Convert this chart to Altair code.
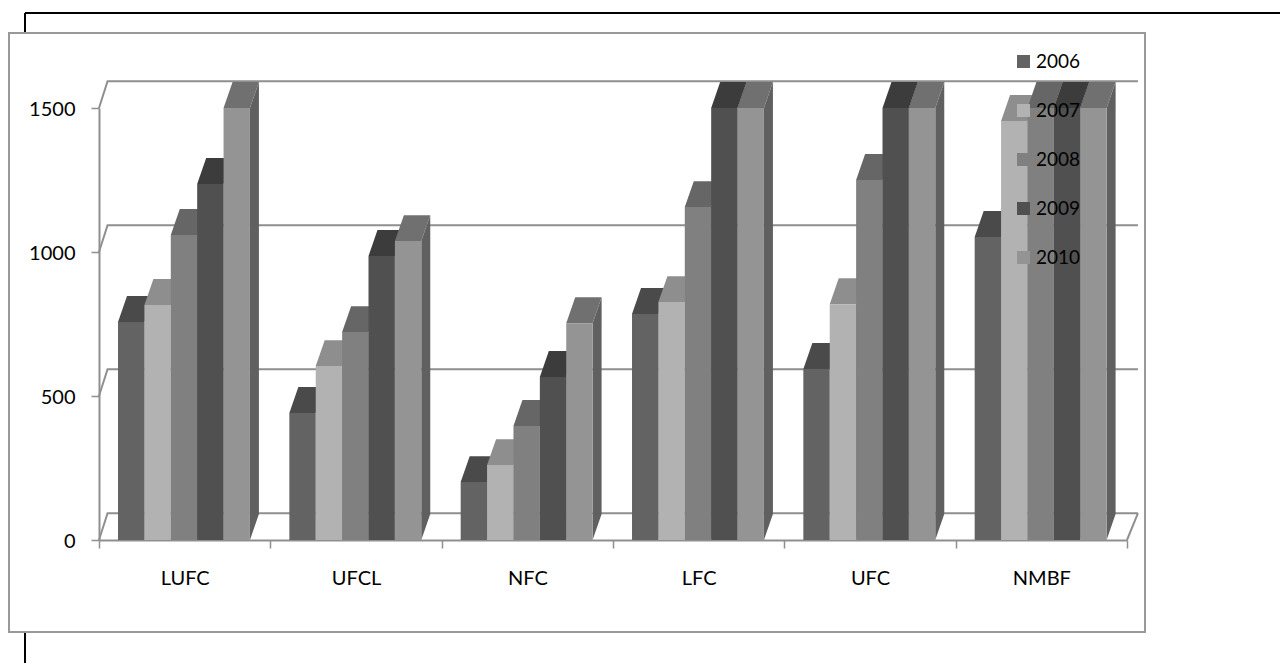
import altair as alt
import pandas as pd

categories = ["LUFC", "UFCL", "NFC", "LFC", "UFC", "NMBF"]
years = ["2006", "2007", "2008", "2009", "2010"]
v2006 = [757, 441, 201, 785, 594, 1052]
v2007 = [816, 604, 260, 826, 819, 1455]
v2008 = [1059, 722, 396, 1156, 1250, 1500]
v2009 = [1236, 986, 566, 1500, 1500, 1500]
v2010 = [1500, 1038, 753, 1500, 1500, 1500]
series = [v2006, v2007, v2008, v2009, v2010]

front_colors = ["#636363", "#b2b2b2", "#808080", "#505050", "#949494"]
top_colors = ["#4a4a4a", "#8e8e8e", "#666666", "#3c3c3c", "#707070"]
side_colors = ["#4c4c4c", "#858585", "#606060", "#3c3c3c", "#606060"]
grid_values = [0, 500, 1000, 1500]

FONT = "Lato"
GRAY = "#8f8f8f"
PAD = 0.111       # gap from category edge to first bar, in category units
BAR_W = 0.154     # bar width, in category units
DX = 0.0525       # depth offset along x, in category units
DY = 90           # depth offset along y, in value units

fronts, tops, sides = [], [], []
for c, cat in enumerate(categories):
    for s, yr in enumerate(years):
        v = series[s][c]
        x0 = c + PAD + BAR_W * s
        x1 = x0 + BAR_W
        bar = f"{c}-{s}"
        fronts.append(dict(cat=cat, Year=yr, x0=x0, x1=x1, v=v, base=0))
        for x, a, b in [(x0, v, v), (x0 + DX, v, v + DY), (x1, v, v + DY), (x1 + DX, v + DY, v + DY)]:
            tops.append(dict(bar=bar, x=x, lo=a, hi=b, fill=top_colors[s]))
        for x, a, b in [(x1, 0, v), (x1 + DX, DY, v + DY)]:
            sides.append(dict(bar=bar, x=x, lo=a, hi=b, fill=side_colors[s]))

grid = []
for g in grid_values:
    grid.append(dict(g=f"g{g}", x=0, v=g))
    grid.append(dict(g=f"g{g}", x=0.05, v=g + 93))
    grid.append(dict(g=f"g{g}", x=6.064, v=g + 93))
grid.append(dict(g="edge", x=6, v=0))
grid.append(dict(g="edge", x=6.064, v=93))

xs = alt.Scale(domain=[0, 6], nice=False, zero=False)
ys = alt.Scale(domain=[0, 1500], nice=False, zero=True)

names = "[" + ",".join(f"'{c}'" for c in categories) + "]"

black_h = alt.Chart(pd.DataFrame({"a": [0]})).mark_rule(color="#000000", strokeWidth=2).encode(
    x=alt.value(-74), x2=alt.value(1181), y=alt.value(-95))
black_v1 = alt.Chart(pd.DataFrame({"a": [0]})).mark_rule(color="#000000", strokeWidth=2).encode(
    x=alt.value(-74), y=alt.value(-95), y2=alt.value(-75))
black_v2 = alt.Chart(pd.DataFrame({"a": [0]})).mark_rule(color="#000000", strokeWidth=2).encode(
    x=alt.value(-74), y=alt.value(524), y2=alt.value(555))
frame = alt.Chart(pd.DataFrame({"a": [0]})).mark_rect(fill="#ffffff", fillOpacity=0, stroke="#999999", strokeWidth=2).encode(
    x=alt.value(-90), x2=alt.value(1046), y=alt.value(-75), y2=alt.value(524))

x_axis = alt.Axis(
    values=list(range(7)), title=None, grid=False, domainColor=GRAY, domainWidth=2,
    tickColor=GRAY, tickWidth=1.5, tickSize=8, labelExpr=f"datum.value<6?{names}[datum.value]:''",
    labelOffset=85.67, labelPadding=20, labelFont=FONT, labelFontSize=20, labelColor="#000000",
    labelAlign="center", labelFlush=False, labelOverlap=False)
y_axis = alt.Axis(
    values=grid_values, title=None, grid=False, domainColor=GRAY, domainWidth=2, format="d",
    tickColor=GRAY, tickWidth=1.5, tickSize=8, labelPadding=16, labelOffset=1, labelFont=FONT,
    labelFontSize=20, labelColor="#000000")

grid_layer = alt.Chart(pd.DataFrame(grid)).mark_line(color=GRAY, strokeWidth=2).encode(
    x=alt.X("x:Q", scale=xs, axis=x_axis),
    y=alt.Y("v:Q", scale=ys, axis=y_axis),
    detail="g:N", order="x:Q")

side_layer = alt.Chart(pd.DataFrame(sides)).mark_area().encode(
    x=alt.X("x:Q", scale=xs),
    y=alt.Y("lo:Q", scale=ys), y2="hi:Q",
    detail="bar:N", fill=alt.Fill("fill:N", scale=None))

top_layer = alt.Chart(pd.DataFrame(tops)).mark_area().encode(
    x=alt.X("x:Q", scale=xs),
    y=alt.Y("lo:Q", scale=ys), y2="hi:Q",
    detail="bar:N", fill=alt.Fill("fill:N", scale=None))

front_layer = alt.Chart(pd.DataFrame(fronts)).mark_rect().encode(
    x=alt.X("x0:Q", scale=xs),
    x2="x1:Q",
    y=alt.Y("v:Q", scale=ys),
    y2="base:Q",
    fill=alt.Fill("Year:N", scale=alt.Scale(domain=years, range=front_colors), legend=alt.Legend(
        title=None, orient="none", legendX=915, legendY=-56, symbolType="square", symbolSize=169,
        symbolStrokeWidth=0, labelFont=FONT, labelFontSize=19, labelColor="#000000", rowPadding=29, labelOffset=3)))

chart = alt.layer(black_h, black_v1, black_v2, frame, grid_layer, side_layer, top_layer, front_layer).properties(
    width=1028, height=432,
    padding={"left": 91, "top": 100, "right": 153, "bottom": 123},
    autosize=alt.AutoSizeParams(type="none"),
    background="#ffffff",
).configure_view(stroke=None)

chart.save("out.html", embed_options={"renderer": "svg", "actions": False})
